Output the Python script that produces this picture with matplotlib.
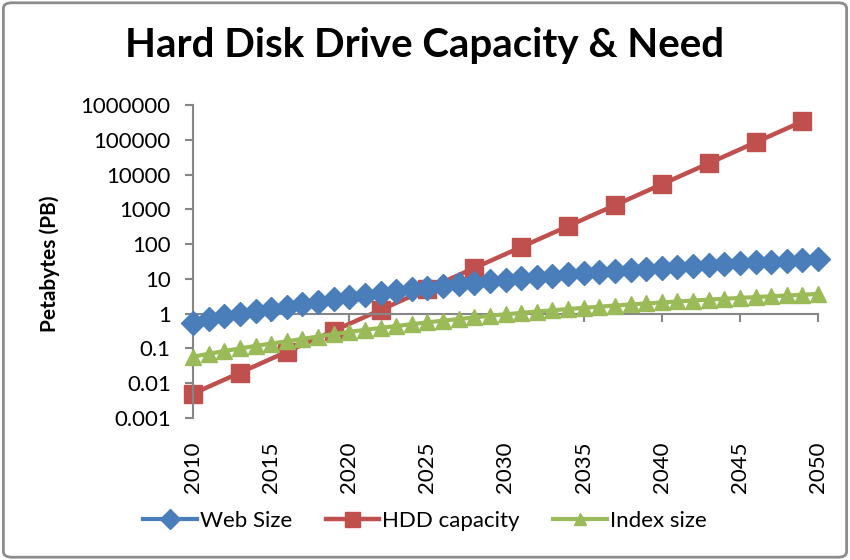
import numpy as np
import matplotlib
matplotlib.use("Agg")
import matplotlib.pyplot as plt
from matplotlib.patches import FancyBboxPatch

plt.rcParams['font.family'] = ['Lato', 'DejaVu Sans']

# data
years = list(range(2010, 2051))
web_size = [0.55, 0.68, 0.83, 1.0, 1.18, 1.38, 1.6, 1.88, 2.2, 2.58, 3.0,
            3.4, 3.9, 4.4, 5.0, 5.6, 6.3, 7.0, 7.8, 8.7, 9.6,
            10.5, 11.5, 12.5, 13.6, 14.7, 15.9, 17.1, 18.4, 19.7, 21.0,
            22.4, 23.8, 25.3, 26.8, 28.4, 30.0, 31.6, 33.3, 35.0, 36.8]
index_size = [0.058, 0.07, 0.084, 0.1, 0.118, 0.138, 0.16, 0.188, 0.22, 0.258, 0.3,
              0.34, 0.39, 0.44, 0.5, 0.56, 0.63, 0.7, 0.78, 0.87, 0.96,
              1.05, 1.15, 1.25, 1.36, 1.47, 1.59, 1.71, 1.84, 1.97, 2.1,
              2.24, 2.38, 2.53, 2.68, 2.84, 3.0, 3.16, 3.33, 3.5, 3.68]
hdd_years = [2010, 2013, 2016, 2019, 2022, 2025, 2028, 2031, 2034, 2037,
             2040, 2043, 2046, 2049]
hdd_capacity = [0.005, 0.02, 0.08, 0.32, 1.28, 5.12, 20.5, 82, 328, 1311,
                5243, 20972, 83886, 335544]
y_ticks = [0.001, 0.01, 0.1, 1, 10, 100, 1000, 10000, 100000, 1000000]
y_labels = ["0.001", "0.01", "0.1", "1", "10", "100", "1000", "10000",
            "100000", "1000000"]

blue = "#4A7EBB"
red = "#C0504D"
green = "#9BBB59"
axis_gray = "#868686"

fig = plt.figure(figsize=(8.5, 5.6), dpi=100)
left, right, bottom, top = 193 / 850, 818 / 850, 1 - 418 / 560, 1 - 105 / 560
ax = fig.add_axes([left, bottom, right - left, top - bottom])

ax.plot(years, web_size, color=blue, lw=3, marker="D", ms=12.5,
        label="Web Size", clip_on=False, zorder=3)
ax.plot(hdd_years, hdd_capacity, color=red, lw=3.2, marker="s", ms=13.5,
        label="HDD capacity", clip_on=False, zorder=2)
ax.plot(years, index_size, color=green, lw=3, marker="^", ms=11,
        label="Index size", clip_on=False, zorder=4)

ax.set_yscale("log")
ax.set_ylim(0.001, 1000000)
ax.set_xlim(2010, 2050)
ax.yaxis.set_major_locator(matplotlib.ticker.FixedLocator(y_ticks))
ax.yaxis.set_minor_locator(matplotlib.ticker.NullLocator())
ax.set_yticklabels(y_labels)
ax.set_xticks(range(2010, 2051, 5))
ax.xaxis.set_minor_locator(matplotlib.ticker.NullLocator())

for s in ["top", "right"]:
    ax.spines[s].set_visible(False)
ax.spines["left"].set_color(axis_gray)
ax.spines["bottom"].set_color(axis_gray)
ax.spines["left"].set_linewidth(1.5)
ax.spines["bottom"].set_linewidth(1.5)
ax.spines["bottom"].set_position(("data", 1))

# horizontal axis crosses at 1, labels sit below the plot area
ax_h_pt = (top - bottom) * 5.6 * 72
pad = ax_h_pt * 3 / 9 + 17 - 6
ax.tick_params(axis="x", direction="out", length=6, width=1.5, color=axis_gray,
               labelsize=16, labelrotation=90, pad=pad)
ax.tick_params(axis="y", direction="out", length=6, width=1.5, color=axis_gray,
               labelsize=16, pad=10)

fig.text(0.5, 1 - 46 / 560, "Hard Disk Drive Capacity & Need", ha="center",
         va="center", fontsize=29, fontweight="bold")
fig.text(50 / 850, 1 - 264 / 560, "Petabytes (PB)", rotation=90, ha="center",
         va="center", fontsize=15, fontweight="bold")

fig.legend(loc="center", bbox_to_anchor=(0.5, 1 - 521 / 560), ncol=3,
           frameon=False, fontsize=16, handlelength=2.4, handletextpad=0.15,
           columnspacing=1.5, markerscale=0.8)

border = FancyBboxPatch((0.004, 0.005), 0.992, 0.99, boxstyle="round,pad=0,rounding_size=0.01",
                        transform=fig.transFigure, fill=False, edgecolor="#8C8C8C",
                        lw=2, zorder=10)
fig.patches.append(border)

fig.savefig("out.png", dpi=100)
